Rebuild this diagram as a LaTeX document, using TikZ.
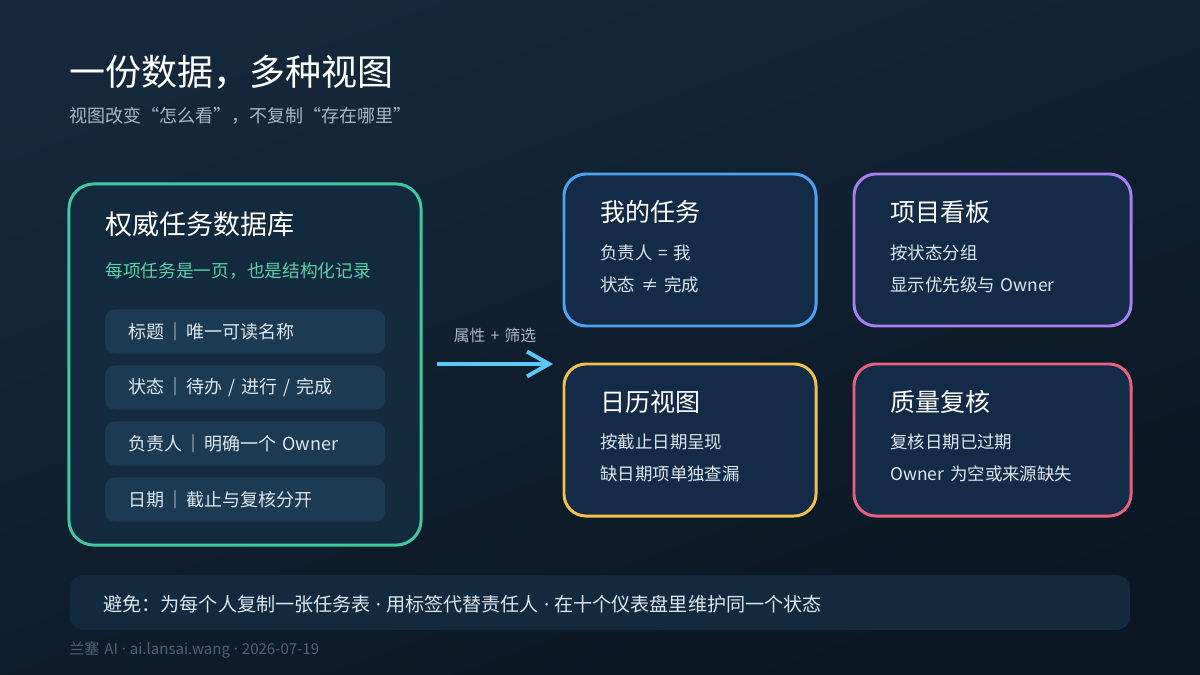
\documentclass[tikz,border=0pt]{standalone}
\usepackage{fontspec}
\setmainfont[WordSpace=1.5]{Noto Sans CJK SC}
\newfontfamily\latinfont{Noto Sans}
\newcommand{\sepdot}{{\latinfont\ ·\ }}
\newcommand{\sepbar}{\kern1.5pt｜\kern1.5pt}
\usetikzlibrary{arrows.meta,positioning}
\definecolor{bgtop}{HTML}{15283B}
\definecolor{bgbot}{HTML}{0A1621}
\definecolor{dbfill}{HTML}{132A3E}
\definecolor{cardfill}{HTML}{142B47}
\definecolor{rowfill}{HTML}{1C3A52}
\definecolor{barfill}{HTML}{13293D}
\definecolor{mint}{HTML}{3FC9A1}
\definecolor{mintText}{HTML}{5CCFA6}
\definecolor{skyblue}{HTML}{4DA3F2}
\definecolor{lilac}{HTML}{A77FF0}
\definecolor{amber}{HTML}{F2C14C}
\definecolor{rose}{HTML}{E8607B}
\definecolor{flowblue}{HTML}{5CC8F5}
\definecolor{softgray}{HTML}{A6B8C8}
\definecolor{bodytext}{HTML}{DCE6EE}
\definecolor{foottext}{HTML}{4E6377}

\begin{document}
\begin{tikzpicture}[x=0.025cm, y=-0.025cm,
        dbbox/.style={rectangle, rounded corners=0.62cm, line width=2.1pt,
                      draw=mint, fill=dbfill,
                      minimum width=8.8cm, minimum height=9.025cm},
        card/.style={rectangle, rounded corners=0.55cm, line width=2.1pt,
                     fill=cardfill, minimum width=6.3cm, minimum height=3.8cm},
        field/.style={rectangle, rounded corners=0.25cm, fill=rowfill,
                      minimum width=7cm, minimum height=1.1cm},
        head/.style={anchor=west, inner sep=0, text=white,
                     font=\fontsize{17.8pt}{20pt}\selectfont},
        note/.style={anchor=west, inner sep=0, text=bodytext,
                     font=\fontsize{12.4pt}{15pt}\selectfont},
        flow/.style={-{Straight Barb[length=0.55cm, width=0.62cm]},
                     line width=2.8pt, draw=flowblue}]

        % background
        \useasboundingbox (0,0) rectangle (1200,675);
        \shade[top color=bgtop, bottom color=bgbot, shading angle=20]
            (0,0) rectangle (1200,675);

        % title and subtitle
        \node[anchor=west, inner sep=0, text=white,
              font=\fontsize{25.6pt}{30pt}\selectfont] (title) at (69,72)
            {一份数据，多种视图};
        \node[anchor=west, inner sep=0, text=softgray,
              font=\fontsize{12.8pt}{15pt}\selectfont] (subtitle) at (69,116)
            {视图改变“怎么看”，不复制“存在哪里”};

        % source database node
        \node[dbbox] (db) at (245,364.5) {};
        \node[anchor=west, inner sep=0, text=white,
              font=\fontsize{19.2pt}{22pt}\selectfont] (dbT) at (105,224)
            {权威任务数据库};
        \node[anchor=west, inner sep=0, text=mintText,
              font=\fontsize{12.6pt}{15pt}\selectfont] (dbS) at (105,271)
            {每项任务是一页，也是结构化记录};

        % fields
        \node[field] (f1) at (245,331.5) {};
        \node[note, font=\fontsize{12.8pt}{15pt}\selectfont] at (128,331.5) {标题\sepbar 唯一可读名称};
        \node[field] (f2) at (245,387.5) {};
        \node[note, font=\fontsize{12.8pt}{15pt}\selectfont] at (128,387.5) {状态\sepbar 待办 / 进行 / 完成};
        \node[field] (f3) at (245,443.5) {};
        \node[note, font=\fontsize{12.8pt}{15pt}\selectfont] at (128,443.5) {负责人\sepbar 明确一个 Owner};
        \node[field] (f4) at (245,499.5) {};
        \node[note, font=\fontsize{12.8pt}{15pt}\selectfont] at (128,499.5) {日期\sepbar 截止与复核分开};

        % arrow: database -> views
        \coordinate (viewsIn) at (553,364);
        \draw[flow] ([xshift=0.35cm]db.east |- viewsIn) -- (viewsIn);
        \node[text=softgray, inner sep=0,
              font=\fontsize{11.2pt}{13pt}\selectfont] (flowLbl) at (495,335)
            {属性 + 筛选};

        % view: my tasks
        \node[card, draw=skyblue] (mine) at (690,250) {};
        \node[head] at (600,212) {我的任务};
        \node[note] at (600,253) {负责人 = 我};
        \node[note] at (600,285) {状态 ≠ 完成};

        % view: project board
        \node[card, draw=lilac, minimum width=6.925cm] (board) at (992.5,250) {};
        \node[head] at (890,212) {项目看板};
        \node[note] at (890,253) {按状态分组};
        \node[note] at (890,285) {显示优先级与 Owner};

        % view: calendar
        \node[card, draw=amber] (cal) at (690,440) {};
        \node[head] at (600,402) {日历视图};
        \node[note] at (600,442) {按截止日期呈现};
        \node[note] at (600,474) {缺日期项单独查漏};

        % view: quality review
        \node[card, draw=rose, minimum width=6.925cm] (review) at (992.5,440) {};
        \node[head] at (890,402) {质量复核};
        \node[note] at (890,442) {复核日期已过期};
        \node[note] at (890,474) {Owner 为空或来源缺失};

        % avoid bar
        \node[rectangle, rounded corners=0.35cm, fill=barfill,
              minimum width=26.5cm, minimum height=1.375cm] (avoid) at (600,602.5) {};
        \node[note, font=\fontsize{13.6pt}{17pt}\selectfont] at (103,604)
            {避免：为每个人复制一张任务表\sepdot 用标签代替责任人\sepdot 在十个仪表盘里维护同一个状态};

        % footer
        \node[anchor=west, inner sep=0, text=foottext,
              font=\fontsize{10.7pt}{13pt}\selectfont] (foot) at (69,650)
            {兰塞 AI\sepdot ai.lansai.wang\sepdot 2026-07-19};

    \end{tikzpicture}
\end{document}
